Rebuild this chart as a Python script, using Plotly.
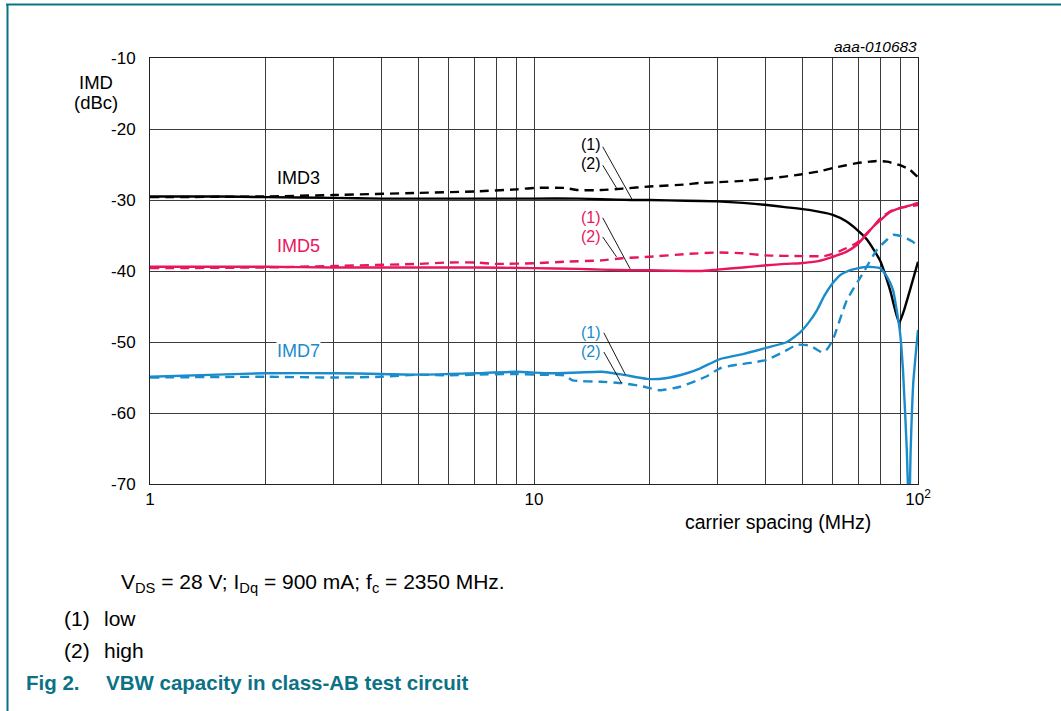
import numpy as np
import plotly.graph_objects as go

# ---------------- data ----------------
imd3_low_f = [1, 1.5, 2, 3, 4, 5, 7, 10, 13, 15, 18, 20, 25, 30, 35, 40.4, 45, 52, 60, 65, 69.4, 73.7, 79.6, 84.6, 89.3, 92, 95.3, 100]
imd3_low_v = [-29.5, -29.5, -29.6, -29.7, -29.8, -29.8, -29.8, -29.8, -29.8, -29.9, -30.0, -30.0, -30.1, -30.2, -30.4, -30.7, -31.0, -31.4, -32.1, -33.0, -34.2, -35.6, -38.5, -42.7, -47.3, -45.5, -42.7, -38.7]

imd3_high_f = [1, 2, 3, 5, 7, 9, 10, 12, 13, 15, 17, 20, 25, 27, 30, 35, 40.4, 45, 49.4, 55, 60, 65, 69.4, 75, 78, 83, 89.8, 95, 100]
imd3_high_v = [-29.6, -29.5, -29.3, -29.0, -28.8, -28.5, -28.3, -28.3, -28.6, -28.6, -28.4, -28.1, -27.8, -27.6, -27.5, -27.3, -27.0, -26.7, -26.4, -26.0, -25.5, -25.1, -24.8, -24.6, -24.5, -24.6, -25.1, -25.7, -26.8]

imd5_low_f = [1, 2, 3, 5, 7, 10, 13, 15, 18, 20, 25, 27.1, 30, 35, 40.4, 45, 49.4, 55, 60, 65, 69.4, 73, 76.3, 80, 84.6, 90, 95, 100]
imd5_low_v = [-39.4, -39.4, -39.5, -39.5, -39.5, -39.6, -39.7, -39.8, -39.9, -39.9, -40.0, -40.0, -39.8, -39.5, -39.2, -39.0, -38.9, -38.6, -38.0, -37.3, -36.3, -35.0, -33.8, -32.8, -31.7, -31.1, -30.8, -30.4]

imd5_high_f = [1, 2, 3, 5, 6, 7, 8, 10, 12, 15, 17, 20, 25, 30, 35, 40, 50, 57, 60, 65, 69.4, 76.3, 80, 86, 90, 100]
imd5_high_v = [-39.6, -39.5, -39.3, -39.0, -38.8, -38.8, -39.0, -38.9, -38.7, -38.5, -38.2, -38.0, -37.6, -37.4, -37.5, -37.8, -37.9, -37.9, -37.6, -36.8, -36.0, -33.8, -32.5, -31.4, -31.1, -30.7]

imd7_low_f = [1, 1.5, 2, 3, 4, 5, 6, 7, 9, 11, 13, 15, 17, 19.7, 22, 25, 27.1, 30.5, 35, 40.4, 45.6, 49.4, 52, 54.6, 57, 60, 63, 66.4, 70, 73.7, 79.6, 83, 86.1, 88, 89.8, 91.4, 93.5, 94.8, 95.7, 97.2, 100]
imd7_low_v = [-54.9, -54.6, -54.4, -54.4, -54.5, -54.6, -54.5, -54.4, -54.2, -54.4, -54.3, -54.2, -54.6, -55.2, -55.1, -54.4, -53.7, -52.4, -51.7, -50.8, -50.0, -48.6, -47.2, -45.5, -43.5, -41.7, -40.5, -39.9, -39.6, -39.4, -39.6, -40.8, -42.7, -45.5, -48.7, -54.0, -65.2, -75.0, -65.2, -55.8, -48.3]

imd7_high_f = [1, 2, 3, 4, 5, 6, 7, 9, 10, 12, 12.6, 15, 17, 19, 20, 21.3, 24, 28, 30.5, 33.8, 37, 40.4, 45, 48.4, 52.3, 55, 56.6, 58, 60, 65.3, 71.9, 78.2, 83, 86.1, 89, 93.2, 97, 100]
imd7_high_v = [-55.0, -54.9, -55.0, -54.9, -54.6, -54.7, -54.6, -54.5, -54.6, -54.7, -55.4, -55.6, -55.8, -56.2, -56.5, -56.8, -56.3, -54.9, -53.7, -53.2, -52.9, -52.5, -51.3, -50.4, -50.5, -51.2, -51.5, -51.0, -49.7, -44.1, -40.3, -37.0, -35.6, -34.9, -35.0, -35.4, -35.9, -36.6]

x_tick_vals = [1, 10, 100]
x_tick_text = ["1", "10", "10<sup>2</sup>"]
x_minor_vals = [2, 3, 4, 5, 6, 7, 8, 9, 20, 30, 40, 50, 60, 70, 80, 90]
y_tick_vals = [-70, -60, -50, -40, -30, -20, -10]
y_tick_text = ["-70", "-60", "-50", "-40", "-30", "-20", "-10"]

series_labels = ["IMD3", "IMD5", "IMD7"]
label_pos_f = 2.43
label_pos_v = [-26.9, -36.5, -51.3]

# (1)/(2) leader lines: label position and line ends [f0, v0, f1, v1]
leader_label_f = 14.1
leader_labels_v = [(-22.25, -24.8), (-32.4, -35.1), (-48.7, -51.4)]
leader_line1 = [(15.1, -22.5, 18.0, -29.9), (15.1, -32.5, 17.8, -39.7), (15.2, -48.7, 17.3, -54.6)]
leader_line2 = [(15.1, -25.1, 16.4, -28.3), (15.1, -35.2, 16.4, -38.0), (15.2, -51.4, 16.9, -55.8)]

# ---------------- styling ----------------
BLACK = "#000000"
PINK = "#e8175d"
BLUE = "#1a8ccc"
TEAL = "#0b7285"
FONT = "Arial, Liberation Sans, sans-serif"
colors = [BLACK, PINK, BLUE]
GRID = "#3c3c3c"

W, H = 1061, 711
PL, PR, PT, PB = 150, 918, 58, 484


def px(x):
    return (x - PL) / (PR - PL)


def py(y):
    return (PB - y) / (PB - PT)


fig = go.Figure()

series = [
    (imd3_low_f, imd3_low_v, imd3_high_f, imd3_high_v),
    (imd5_low_f, imd5_low_v, imd5_high_f, imd5_high_v),
    (imd7_low_f, imd7_low_v, imd7_high_f, imd7_high_v),
]
for (lf, lv, hf, hv), c in zip(series, colors):
    fig.add_trace(go.Scatter(x=hf, y=hv, mode="lines",
                             line=dict(color=c, width=2.4, dash="9px,6px", shape="spline", smoothing=0.5),
                             showlegend=False, hoverinfo="skip"))
    fig.add_trace(go.Scatter(x=lf, y=lv, mode="lines",
                             line=dict(color=c, width=2.4, shape="spline", smoothing=0.5),
                             showlegend=False, hoverinfo="skip"))

# leader lines
for l1, l2 in zip(leader_line1, leader_line2):
    for (f0, v0, f1, v1) in (l1, l2):
        fig.add_trace(go.Scatter(x=[f0, f1], y=[v0, v1], mode="lines",
                                 line=dict(color="#000000", width=0.9),
                                 showlegend=False, hoverinfo="skip"))

annotations = []
for name, v, c in zip(series_labels, label_pos_v, colors):
    annotations.append(dict(x=np.log10(label_pos_f), y=v, xref="x", yref="y", text=name,
                            xanchor="center", yanchor="middle",
                            showarrow=False, font=dict(family=FONT, size=18, color=c),
                            bgcolor="white" if name == "IMD7" else "rgba(0,0,0,0)", borderpad=0))
for (v1, v2), c in zip(leader_labels_v, colors):
    for t, v in (("(1)", v1), ("(2)", v2)):
        annotations.append(dict(x=np.log10(leader_label_f), y=v, xref="x", yref="y", text=t,
                                xanchor="center", yanchor="middle",
                                showarrow=False, font=dict(family=FONT, size=16, color=c)))


def cap(x, y, text, size, color="black", xanchor="left"):
    return dict(x=px(x), y=py(y), xref="paper", yref="paper", text=text, showarrow=False,
                xanchor=xanchor, yanchor="middle", font=dict(family=FONT, size=size, color=color))


annotations += [
    cap(96, 82, "IMD", 18.5, xanchor="center"),
    cap(96, 103, "(dBc)", 18.5, xanchor="center"),
    cap(873, 522, "carrier spacing (MHz)", 19.5, xanchor="right"),
    cap(919, 46, "<i>aaa-010683</i>", 15.5, xanchor="right"),
    cap(119, 583, "V<sub>DS</sub> = 28 V; I<sub>Dq</sub> = 900 mA; f<sub>c</sub> = 2350 MHz.", 21),
    cap(62, 618, "(1)", 21),
    cap(102, 618, "low", 21),
    cap(62, 650, "(2)", 21),
    cap(102, 650, "high", 21),
    cap(24, 682, "<b>Fig 2.</b>", 20.5, color=TEAL),
    cap(104, 682, "<b>VBW capacity in class-AB test circuit</b>", 20.5, color=TEAL),
]

shapes = [
    dict(type="line", xref="paper", yref="paper", x0=px(6), x1=px(1061), y0=py(4.5), y1=py(4.5),
         line=dict(color=TEAL, width=2)),
    dict(type="line", xref="paper", yref="paper", x0=px(7.5), x1=px(7.5), y0=py(4), y1=py(711),
         line=dict(color=TEAL, width=2)),
]

fig.update_layout(
    width=W, height=H, autosize=False,
    margin=dict(l=PL, r=W - PR, t=PT, b=H - PB, pad=0),
    paper_bgcolor="white", plot_bgcolor="white",
    annotations=annotations, shapes=shapes,
    font=dict(family=FONT, size=17, color="black"),
    xaxis=dict(type="log", range=[0, 2], tickmode="array", tickvals=x_tick_vals, ticktext=x_tick_text,
               showgrid=True, gridcolor=GRID, gridwidth=1, zeroline=False,
               minor=dict(tickmode="array", tickvals=x_minor_vals, showgrid=True, gridcolor=GRID, gridwidth=1,
                          ticks=""),
               showline=True, linecolor="#222", linewidth=1, mirror=True, ticks="",
               tickfont=dict(family=FONT, size=17, color="black")),
    yaxis=dict(range=[-70, -10], tickmode="array", tickvals=y_tick_vals, ticktext=y_tick_text,
               showgrid=True, gridcolor=GRID, gridwidth=1, zeroline=False,
               showline=True, linecolor="#222", linewidth=1, mirror=True, ticks="",
               ticklabelstandoff=10, tickfont=dict(family=FONT, size=17, color="black")),
)

fig.write_html("out.html", config={"displayModeBar": False},
               post_script="document.body.style.margin='0';document.body.style.overflow='hidden';")
